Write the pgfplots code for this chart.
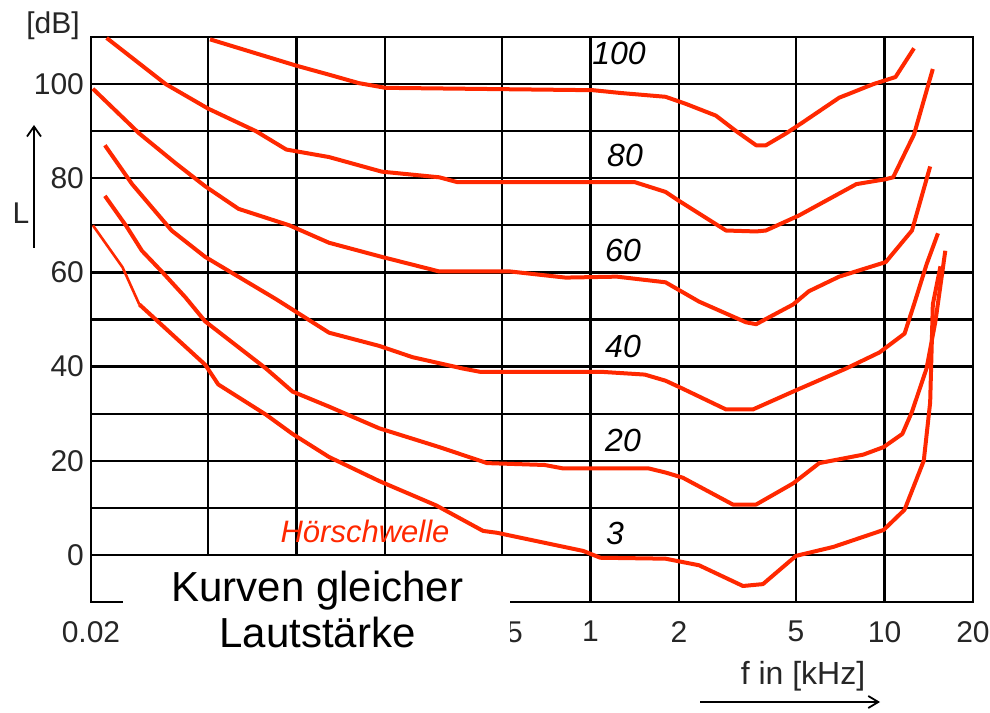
\documentclass[border=0pt]{standalone}
\usepackage{fontspec}
\setmainfont{Liberation Sans}
\usepackage{pgfplots}
\pgfplotsset{compat=1.18}
\usetikzlibrary{arrows.meta}
\definecolor{kurve}{RGB}{255,40,0}

\begin{document}
\begin{tikzpicture}
\path[use as bounding box] (-45.5pt,-55pt) rectangle (449.5pt,301pt);
\begin{axis}[
    at={(0pt,0pt)}, anchor=south west,
    scale only axis, width=441pt, height=282.5pt,
    xmode=log, xmin=0.02, xmax=20, ymin=-10, ymax=110,
    xtick={0.02,0.05,0.1,0.2,0.5,1,2,5,10,20},
    xticklabels={{0.02},{},{},{},{0.5},{1},{2},{5},{10},{20}},
    ytick={0,20,40,60,80,100},
    yticklabels={0,20,40,60,80,100},
    minor ytick={10,30,50,70,90},
    xmajorgrids=true, ymajorgrids=true, yminorgrids=true,
    major grid style={black, line width=1.1pt},
    minor grid style={black, line width=1.1pt},
    axis line style={black, line width=1.2pt},
    major tick length=0pt, minor tick length=0pt,
    tick label style={font=\fontsize{15}{18}\selectfont, black!85},
    xticklabel style={yshift=-6pt},
    /pgf/number format/assume math mode=true,
    clip=false,
]

% 100 phon
\addplot[kurve, line width=2pt, line join=round] table {
0.0508 109.5
0.1    103.9
0.129  102.0
0.163  100.2
0.201  99.2
1.02   98.7
1.27   98.1
1.80   97.3
2.11   95.8
2.67   93.3
3.13   90.0
3.66   87.0
3.95   87.0
4.62   89.5
5.28   91.9
7.01   97.1
9.17   100.0
10.9   101.5
12.6   107.6
};

% 80 phon
\addplot[kurve, line width=2pt, line join=round] table {
0.0226 109.8
0.0359 100.0
0.05   94.8
0.0728 90.0
0.0923 86.1
0.129  84.5
0.195  81.4
0.306  80.2
0.351  79.2
1.41   79.2
1.80   77.1
2.0    75.2
2.89   68.9
3.66   68.7
3.95   68.9
5.12   72.1
8.02   78.75
10.1   79.8
10.7   80.2
12.6   89.3
14.6   103.2
};

% 60 phon
\addplot[kurve, line width=2pt, line join=round] table {
0.0203 99.0
0.0292 89.5
0.0388 83.2
0.0489 78.3
0.0635 73.5
0.0946 70.0
0.129  66.3
0.195  63.3
0.306  60.2
0.533  60.2
0.822  58.9
1.23   59.1
1.80   57.9
2.34   53.8
3.38   49.4
3.66   49.0
4.89   53.2
5.53   56.0
7.01   59.1
10.1   62.2
12.4   68.9
14.3   82.5
};

% 40 phon
\addplot[kurve, line width=2pt, line join=round] table {
0.0223 87.0
0.0276 78.75
0.0376 68.9
0.0489 63.3
0.0853 54.3
0.129  47.2
0.191  44.4
0.248  42.0
0.367  39.6
0.420  38.9
1.08   38.9
1.53   38.3
1.80   37.0
2.06   35.3
2.89   30.9
3.57   30.9
4.89   34.7
7.41   39.6
9.61   43.0
11.7   47.0
12.6   53.2
13.9   61.7
15.2   68.3
};

% 20 phon
\addplot[kurve, line width=2pt, line join=round] table {
0.0223 76.25
0.0264 69.8
0.0298 64.6
0.0348 60.2
0.0419 54.7
0.0489 49.6
0.0787 39.6
0.0969 34.7
0.129  31.5
0.191  26.9
0.306  22.9
0.445  19.5
0.698  19.1
0.802  18.4
1.57   18.4
1.80   17.5
2.06   16.4
3.05   10.7
3.66   10.7
4.89   15.2
6.00   19.5
8.47   21.3
9.93   22.9
11.5   25.7
12.4   30.4
13.9   39.6
14.9   49.6
16.1   64.6
};

% Hoerschwelle (3 phon)
\addplot[kurve, line width=1.3pt, line join=round] table {
0.0203 70.0
0.0256 61.1
0.0292 53.2
};
\addplot[kurve, line width=2pt, line join=round] table {
0.0292 53.2
0.0489 40.4
0.0542 36.2
0.0787 29.8
0.0969 25.7
0.129  20.8
0.191  15.7
0.299  10.5
0.431  5.1
0.481  4.7
0.944  0.85
1.08   -0.6
1.80   -0.8
2.34   -2.2
3.30   -6.6
3.86   -6.2
5.0    -0.2
6.70   1.7
9.93   5.3
11.7   9.6
13.6   20.0
14.3   32.4
14.6   53.2
15.5   61.3
};
\end{axis}

% white box with the title, covering the lowest row
\fill[white] (1pt,1pt) rectangle (209.5pt,22.9pt);
\fill[white] (16pt,-30pt) rectangle (209.5pt,1.5pt);
\node[anchor=base, inner sep=0pt, font=\fontsize{21}{23}\selectfont] at (113.25pt,0pt) {Kurven gleicher};
\node[anchor=base, inner sep=0pt, font=\fontsize{21}{23}\selectfont] at (113.25pt,-23pt) {Lautstärke};

% curve labels
\begin{scope}[every node/.style={anchor=base, inner sep=0pt, font=\fontsize{16}{18}\selectfont\itshape}]
\node at (264pt,268.5pt) {100};
\node at (267pt,217.5pt) {80};
\node at (266pt,170pt) {60};
\node at (266pt,122pt) {40};
\node at (266pt,75pt) {20};
\node at (262pt,28.5pt) {3};
\node[text=kurve, font=\fontsize{15.5}{18}\selectfont\itshape] at (137pt,29.5pt) {Hörschwelle};
\end{scope}

% axis names
\node[font=\fontsize{15}{18}\selectfont, black!85] at (-19pt,288pt) {[dB]};
\node[font=\fontsize{15}{18}\selectfont, black!85] at (-35pt,194.5pt) {L};
\draw[line width=0.9pt, -{Straight Barb[length=5pt,width=7pt]}] (-28.5pt,177pt) -- (-28.5pt,238.5pt);
\node[font=\fontsize{16}{18}\selectfont, black!85] at (356pt,-37pt) {f in [kHz]};
\draw[line width=0.9pt, -{Straight Barb[length=5pt,width=6pt]}] (304.5pt,-50pt) -- (394.5pt,-50pt);
\end{tikzpicture}
\end{document}
